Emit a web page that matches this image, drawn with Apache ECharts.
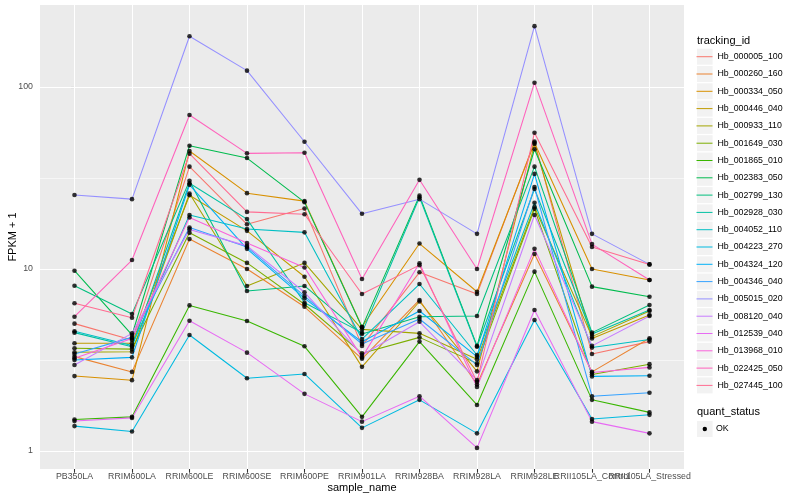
<!DOCTYPE html>
<html>
<head>
<meta charset="utf-8">
<script src="https://cdn.jsdelivr.net/npm/echarts@6/dist/echarts.min.js"></script>
<style>
html,body{margin:0;padding:0;background:#fff;}
#chart{width:800px;height:500px;}
</style>
</head>
<body>
<div id="chart"></div>
<script>
// ---- data ----
const categories = ['PB350LA','RRIM600LA','RRIM600LE','RRIM600SE','RRIM600PE','RRIM901LA','RRIM928BA','RRIM928LA','RRIM928LE','RRII105LA_Control','RRII105LA_Stressed'];
const yTickLabels = ['1','10','100'];

const Hb_000005_100 = [5.01, 4.07, 36.5, 17.6, 21.5, 3.78, 9.59, 7.29, 50.1, 3.41, 3.99];
const Hb_000260_160 = [3.30, 2.72, 14.6, 10.0, 6.2, 3.21, 6.76, 2.32, 12.1, 2.72, 4.16];
const Hb_000334_050 = [2.58, 2.45, 44.5, 26.1, 23.6, 4.82, 13.8, 7.5, 49.4, 10.0, 8.7];
const Hb_000446_040 = [3.91, 3.91, 25.4, 16.2, 9.07, 2.90, 6.63, 2.74, 48.6, 4.15, 5.59];
const Hb_000933_110 = [3.49, 3.51, 26.0, 8.07, 10.8, 4.66, 4.43, 3.19, 21.9, 4.25, 5.88];
const Hb_001649_030 = [3.67, 3.63, 15.8, 10.8, 6.4, 3.44, 4.21, 3.03, 21.4, 2.63, 3.0];
const Hb_001865_010 = [1.49, 1.54, 6.31, 5.18, 3.76, 1.54, 3.99, 1.79, 9.67, 1.91, 1.63];
const Hb_002383_050 = [9.79, 4.34, 47.6, 40.7, 23.3, 4.78, 25.3, 3.78, 45.5, 8.0, 7.04];
const Hb_002799_130 = [8.09, 5.66, 30.5, 7.57, 8.07, 4.39, 5.47, 5.52, 36.5, 4.47, 6.34];
const Hb_002928_030 = [4.47, 3.74, 29.6, 18.8, 6.53, 4.47, 24.8, 3.74, 27.5, 4.39, 5.95];
const Hb_004052_110 = [4.55, 3.80, 19.8, 16.6, 15.9, 4.12, 8.27, 3.37, 23.1, 3.70, 4.1];
const Hb_004223_270 = [1.37, 1.28, 4.34, 2.51, 2.65, 1.34, 1.91, 1.25, 5.25, 1.50, 1.58];
const Hb_004324_120 = [3.16, 3.27, 29.0, 12.9, 6.9, 3.98, 5.88, 3.30, 33.3, 2.57, 2.59];
const Hb_004346_040 = [3.41, 4.21, 16.9, 13.2, 7.1, 3.87, 5.31, 2.97, 28.2, 2.0, 2.09];
const Hb_005015_020 = [25.5, 24.2, 190, 123, 50, 20.1, 24.2, 15.6, 216, 15.6, 10.6];
const Hb_008120_040 = [2.97, 4.43, 16.5, 13.4, 7.45, 3.37, 5.13, 2.45, 19.8, 3.78, 5.52];
const Hb_012539_040 = [1.46, 1.52, 5.2, 3.47, 2.06, 1.45, 2.0, 1.04, 5.95, 1.45, 1.25];
const Hb_013968_010 = [3.23, 4.15, 19.2, 13.9, 10.2, 3.27, 10.75, 2.25, 12.9, 2.70, 2.88];
const Hb_022425_050 = [5.47, 11.2, 70.2, 43.2, 43.5, 8.81, 30.9, 10.0, 105.6, 13.7, 8.7];
const Hb_027445_100 = [6.48, 5.40, 43.0, 20.6, 20.0, 7.29, 10.5, 2.40, 56.1, 13.2, 10.6];

const trackingIds = ['Hb_000005_100','Hb_000260_160','Hb_000334_050','Hb_000446_040','Hb_000933_110','Hb_001649_030','Hb_001865_010','Hb_002383_050','Hb_002799_130','Hb_002928_030','Hb_004052_110','Hb_004223_270','Hb_004324_120','Hb_004346_040','Hb_005015_020','Hb_008120_040','Hb_012539_040','Hb_013968_010','Hb_022425_050','Hb_027445_100'];
const seriesValues = [Hb_000005_100,Hb_000260_160,Hb_000334_050,Hb_000446_040,Hb_000933_110,Hb_001649_030,Hb_001865_010,Hb_002383_050,Hb_002799_130,Hb_002928_030,Hb_004052_110,Hb_004223_270,Hb_004324_120,Hb_004346_040,Hb_005015_020,Hb_008120_040,Hb_012539_040,Hb_013968_010,Hb_022425_050,Hb_027445_100];
const quantStatus = ['OK'];

// ---- style ----
const colors = ['#F8766D','#EA8331','#D89000','#C09B00','#A3A500','#7CAE00','#39B600','#00BB4E','#00BF7D','#00C1A3','#00BFC4','#00BAE0','#00B0F6','#35A2FF','#9590FF','#C77CFF','#E76BF3','#FA62DB','#FF62BC','#FF6C91'];
const FONT = 'Liberation Sans, Arial, Helvetica, sans-serif';

const chart = echarts.init(document.getElementById('chart'), null, {renderer:'canvas'});

const lineSeries = trackingIds.map((id, i) => ({
  type: 'line',
  name: id,
  data: seriesValues[i].map((v, j) => [j, v]),
  showSymbol: false,
  symbol: 'none',
  lineStyle: {color: colors[i], width: 1.07},
  itemStyle: {color: colors[i]},
  emphasis: {disabled: true},
  silent: true,
  z: 2
}));

const pointData = [];
seriesValues.forEach(vals => vals.forEach((v, j) => pointData.push([j, v])));

const gridLines = categories.map((c, j) => ({xAxis: j}))
  .concat(yTickLabels.map(t => ({yAxis: Number(t)})))
  .concat([{yAxis: Math.sqrt(10), lineStyle: {width: 0.55}}, {yAxis: Math.sqrt(1000), lineStyle: {width: 0.55}}]);

const scatterSeries = {
  type: 'scatter',
  name: quantStatus[0],
  data: pointData,
  symbol: 'circle',
  symbolSize: 4.6,
  itemStyle: {color: '#000'},
  emphasis: {disabled: true},
  silent: true,
  z: 3,
  markLine: {
    silent: true,
    symbol: 'none',
    z: 1,
    animation: false,
    label: {show: false},
    emphasis: {disabled: true},
    lineStyle: {color: '#FFFFFF', width: 1.07, type: 'solid'},
    data: gridLines
  }
};

const keyTop = 48.7, keyStep = 17.3;
const graphics = [];
trackingIds.forEach((id, i) => {
  graphics.push({type: 'rect', silent: true, z: 0, shape: {x: 697, y: keyTop + i * keyStep, width: 15.6, height: 16}, style: {fill: '#F2F2F2'}});
});
graphics.push({type: 'rect', silent: true, z: 0, shape: {x: 697, y: 421, width: 15.6, height: 16}, style: {fill: '#F2F2F2'}});
graphics.push({type: 'circle', silent: true, z: 5, shape: {cx: 704.8, cy: 429, r: 2.2}, style: {fill: '#000'}});
graphics.push({type: 'text', silent: true, z: 5, x: 716, y: 429, style: {text: quantStatus[0], font: '8.8px ' + FONT, fill: '#000', textVerticalAlign: 'middle', textAlign: 'left', verticalAlign: 'middle'}});

const catIdx = categories.map((c, j) => j);
const evenIdx = catIdx.filter(j => j % 2 === 0);
const oddIdx = catIdx.filter(j => j % 2 === 1);
const xLabelStyle = {fontFamily: FONT, fontSize: 8.8, color: '#4D4D4D', margin: 3, hideOverlap: false, showMinLabel: true, showMaxLabel: true, formatter: v => categories[Math.round(v)]};

const option = {
  animation: false,
  backgroundColor: '#FFFFFF',
  title: [
    {text: 'tracking_id', left: 697, top: 34.5, padding: 0, textStyle: {fontFamily: FONT, fontSize: 11, fontWeight: 'normal', color: '#000', lineHeight: 12}},
    {text: 'quant_status', left: 697, top: 405.8, padding: 0, textStyle: {fontFamily: FONT, fontSize: 11, fontWeight: 'normal', color: '#000', lineHeight: 12}}
  ],
  legend: {
    orient: 'vertical',
    left: 696.5,
    top: keyTop,
    padding: 0,
    itemWidth: 16,
    itemHeight: 16,
    itemGap: keyStep - 16,
    icon: 'path://M0,0L16,0L16,1L0,1Z',
    selectedMode: false,
    data: trackingIds.map((id, i) => ({name: id, itemStyle: {color: colors[i], borderWidth: 0}})),
    textStyle: {fontFamily: FONT, fontSize: 8.8, color: '#000', lineHeight: 16}
  },
  grid: {left: 40, top: 5, width: 644, height: 464, show: true, backgroundColor: '#EBEBEB', borderWidth: 0, containLabel: false, outerBoundsMode: 'none'},
  xAxis: [
    {
      type: 'value',
      min: -0.6,
      max: 10.6,
      position: 'bottom',
      name: 'sample_name',
      nameLocation: 'middle',
      nameGap: 13.8,
      nameMoveOverlap: false,
      nameTextStyle: {fontFamily: FONT, fontSize: 11, color: '#000'},
      axisLine: {show: false},
      splitLine: {show: false},
      axisTick: {show: true, length: 3.7, lineStyle: {color: '#333333', width: 1.07}, customValues: catIdx},
      axisLabel: Object.assign({customValues: evenIdx}, xLabelStyle)
    },
    {
      type: 'value',
      min: -0.6,
      max: 10.6,
      position: 'bottom',
      offset: 0,
      axisLine: {show: false},
      splitLine: {show: false},
      axisTick: {show: false},
      axisLabel: Object.assign({customValues: oddIdx}, xLabelStyle)
    }
  ],
  yAxis: {
    type: 'log',
    logBase: 10,
    min: 0.7963,
    max: 282.2,
    name: 'FPKM + 1',
    nameLocation: 'middle',
    nameGap: 22,
    nameMoveOverlap: false,
    nameTextStyle: {fontFamily: FONT, fontSize: 11, color: '#000'},
    axisLine: {show: false},
    splitLine: {show: false},
    minorTick: {show: false},
    minorSplitLine: {show: false},
    axisTick: {show: true, length: 3.7, lineStyle: {color: '#333333', width: 1.07}},
    axisLabel: {fontFamily: FONT, fontSize: 8.8, color: '#4D4D4D', margin: 7, showMinLabel: false, showMaxLabel: false}
  },
  graphic: graphics,
  series: lineSeries.concat([scatterSeries])
};
chart.setOption(option);
</script>
</body>
</html>
